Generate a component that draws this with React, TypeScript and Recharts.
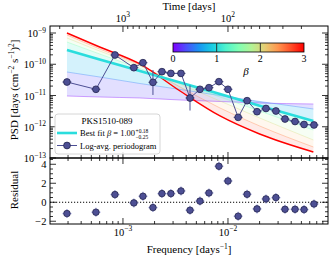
import React from 'react';
import {
  ComposedChart,
  Line,
  Area,
  Scatter,
  XAxis,
  YAxis,
  ErrorBar,
  ReferenceLine,
} from 'recharts';

const FONT = "'Liberation Serif', 'DejaVu Serif', serif";

// log-averaged periodogram of PKS1510-089
const freq = [
  2.93e-4, 5.53e-4, 8.39e-4, 1.27e-3, 1.55e-3, 1.93e-3, 2.35e-3, 2.86e-3, 3.57e-3, 4.35e-3, 5.41e-3, 6.59e-3,
  8.2e-3, 1.0e-2, 1.25e-2, 1.52e-2, 1.89e-2, 2.3e-2, 2.86e-2, 3.49e-2, 4.35e-2, 5.3e-2, 6.59e-2,
];
const psd = [
  2.7e-11, 1.58e-11, 1.98e-10, 7.76e-11, 1.12e-10, 2.64e-11, 5.78e-11, 5.1e-11, 5.1e-11, 8.32e-12, 1.58e-11,
  1.78e-11, 2.77e-11, 1.58e-11, 2.0e-12, 6.82e-12, 3.03e-12, 3.84e-12, 3.19e-12, 1.77e-12, 1.47e-12, 1.18e-12,
  1.14e-12,
];
const psdLow = [
  2.7e-11, 1.58e-11, 1.98e-10, 7.76e-11, 1.12e-10, 1.04e-11, 5.78e-11, 5.1e-11, 5.1e-11, 3.3e-12, 1.58e-11,
  1.78e-11, 2.77e-11, 1.58e-11, 2.0e-12, 6.82e-12, 3.03e-12, 3.84e-12, 3.19e-12, 1.77e-12, 1.47e-12, 1.18e-12,
  1.14e-12,
];
const psdHigh = [
  2.7e-11, 1.58e-11, 1.98e-10, 7.76e-11, 1.12e-10, 6.55e-11, 5.78e-11, 5.1e-11, 5.1e-11, 2.1e-11, 1.58e-11,
  1.78e-11, 2.77e-11, 1.58e-11, 2.0e-12, 6.82e-12, 3.03e-12, 3.84e-12, 3.19e-12, 1.77e-12, 1.47e-12, 1.18e-12,
  1.14e-12,
];
const residual = [
  -1.19, -1.05, 0.81, -0.07, 0.63, -0.56, 0.91, 0.91, 1.19, -0.84, 0.12, 0.98, 3.79, 2.24, -1.47, 0.84, -0.7,
  0.35, 0.49, -0.74, -0.74, -0.77, -0.18,
];

// simulated model PSDs, one curve per beta
const modelFreq = [2.93e-4, 6.0e-4, 1.45e-3, 3.5e-3, 8.4e-3, 2.0e-2, 6.5e-2];
const modelBeta = [0, 0.5, 1, 1.5, 2, 2.5, 3];
const modelB00 = [9.64e-12, 8.95e-12, 8.32e-12, 7.18e-12, 6.43e-12, 5.75e-12, 5.35e-12];
const modelB05 = [5.65e-11, 3.91e-11, 2.42e-11, 1.56e-11, 1.0e-11, 6.43e-12, 3.7e-12];
const modelB10 = [2.86e-10, 1.42e-10, 6.08e-11, 2.59e-11, 1.11e-11, 4.72e-12, 1.53e-12];
const modelB15 = [5.15e-10, 2.13e-10, 7.31e-11, 2.51e-11, 8.95e-12, 3.19e-12, 7.87e-13];
const modelB20 = [6.92e-10, 2.65e-10, 8.79e-11, 2.33e-11, 6.67e-12, 1.91e-12, 3.77e-13];
const modelB25 = [8.63e-10, 3.08e-10, 9.46e-11, 1.87e-11, 3.98e-12, 1.06e-12, 2.25e-13];
const modelB30 = [1.0e-9, 3.56e-10, 1.02e-10, 1.39e-11, 2.21e-12, 5.86e-13, 1.56e-13];
const modelCurves = [modelB00, modelB05, modelB10, modelB15, modelB20, modelB25, modelB30];
const BEST = 2; // beta = 1.00

// axis ticks
const freqMajor = [1e-3, 1e-2];
const freqMinor = [
  3e-4, 4e-4, 5e-4, 6e-4, 7e-4, 8e-4, 9e-4, 2e-3, 3e-3, 4e-3, 5e-3, 6e-3, 7e-3, 8e-3, 9e-3, 2e-2, 3e-2, 4e-2,
  5e-2, 6e-2, 7e-2, 8e-2,
];
const timeMajor = [1000, 100];
const timeMinor = [4000, 3000, 2000, 900, 800, 700, 600, 500, 400, 300, 200, 90, 80, 70, 60, 50, 40, 30, 20];
const psdMajor = [1e-13, 1e-12, 1e-11, 1e-10, 1e-9];
const resMajor = [-2, 0, 2, 4];
const resMinor = [-1.5, -1, -0.5, 0.5, 1, 1.5, 2.5, 3, 3.5, 4.5];

const X_DOMAIN = [2.02e-4, 0.0896];
const Y_DOMAIN = [1e-13, 1.675e-9];
const R_DOMAIN = [-2.29, 4.66];

// plot frame
const W = 332;
const PL = 50;
const PR = 328;
const PT = 26;
const PM = 158;
const PB = 224;

const PG = '#4d4f94';
const PG_EDGE = '#24264f';
const ERR_LIGHT = '#a3a7e0';

function rainbow(t: number) {
  const c = (v: number) => Math.round(Math.max(0, Math.min(1, v)) * 255);
  const r = Math.abs(2 * t - 0.5);
  const g = Math.sin(Math.PI * t);
  const b = Math.cos((Math.PI * t) / 2);
  return `rgb(${c(r)},${c(g)},${c(b)})`;
}

const psdMinor: number[] = [];
psdMajor.slice(0, -1).forEach((d) => {
  for (let m = 2; m <= 9; m++) psdMinor.push(m * d);
});

const freqTicks = [...freqMinor, ...freqMajor].sort((a, b) => a - b);
const timeTicks = [...timeMinor, ...timeMajor].map((t) => 1 / t).sort((a, b) => a - b);
const psdTicks = [...psdMinor, ...psdMajor].sort((a, b) => a - b);
const resTicks = [...resMinor, ...resMajor].sort((a, b) => a - b);

const near = (list: number[], v: number) => list.some((m) => Math.abs(v / m - 1) < 1e-6);

const modelRows = modelFreq.map((f, i) => {
  const row: Record<string, any> = { f };
  modelCurves.forEach((c, k) => {
    row[`m${k}`] = c[i];
    if (k < modelCurves.length - 1) row[`band${k}`] = [c[i], modelCurves[k + 1][i]];
  });
  return row;
});

const pgRows = freq.map((f, i) => ({
  f,
  psd: psd[i],
  err: [psd[i] - psdLow[i], psdHigh[i] - psd[i]],
  res: residual[i],
}));

function Pow10({ x, y, exp, anchor }: { x: number; y: number; exp: string; anchor: 'start' | 'middle' | 'end' }) {
  return (
    <text x={x} y={y} textAnchor={anchor} fontFamily={FONT} fontSize={10.5} fill="#000">
      10
      <tspan dy={-4.5} fontSize={7.5}>
        {exp}
      </tspan>
    </text>
  );
}

const tickLine = (x1: number, y1: number, x2: number, y2: number) => (
  <line x1={x1} y1={y1} x2={x2} y2={y2} stroke="#000" strokeWidth={0.8} />
);

const PsdTick = (props: any) => {
  const { y, payload } = props;
  const v = payload.value;
  const major = near(psdMajor, v);
  const len = major ? 6 : 3;
  return (
    <g>
      {tickLine(PL, y, PL + len, y)}
      {tickLine(PR - len, y, PR, y)}
      {major && <Pow10 x={46} y={y + 4} exp={`−${-Math.round(Math.log10(v))}`} anchor="end" />}
    </g>
  );
};

const MainFreqTick = (props: any) => {
  const { x, payload } = props;
  const len = near(freqMajor, payload.value) ? 6 : 3;
  return <g>{tickLine(x, PM, x, PM - len)}</g>;
};

const TimeTick = (props: any) => {
  const { x, payload } = props;
  const t = 1 / payload.value;
  const major = near(timeMajor, t);
  const len = major ? 6 : 3;
  return (
    <g>
      {tickLine(x, PT, x, PT + len)}
      {major && <Pow10 x={x} y={21.5} exp={`${Math.round(Math.log10(t))}`} anchor="middle" />}
    </g>
  );
};

const ResFreqTick = (props: any) => {
  const { x, payload } = props;
  const major = near(freqMajor, payload.value);
  const len = major ? 6 : 3;
  return (
    <g>
      {tickLine(x, PM, x, PM + len)}
      {tickLine(x, PB, x, PB - len)}
      {major && <Pow10 x={x} y={235.5} exp={`−${-Math.round(Math.log10(payload.value))}`} anchor="middle" />}
    </g>
  );
};

const ResTick = (props: any) => {
  const { y, payload } = props;
  const v = payload.value;
  const major = resMajor.includes(v);
  const len = major ? 6 : 3;
  return (
    <g>
      {tickLine(PL, y, PL + len, y)}
      {tickLine(PR - len, y, PR, y)}
      {major && (
        <text x={46.5} y={y + 3.7} textAnchor="end" fontFamily={FONT} fontSize={10.5} fill="#000">
          {v < 0 ? `−${-v}` : `${v}`}
        </text>
      )}
    </g>
  );
};

const PgDot = (p: any) => {
  const { cx, cy } = p;
  if (cx == null || cy == null) return <g />;
  return (
    <g>
      <line x1={cx - 4.5} x2={cx + 4.5} y1={cy} y2={cy} stroke={PG} strokeWidth={1} />
      <circle cx={cx} cy={cy} r={3.4} fill={PG} stroke={PG_EDGE} strokeWidth={0.8} />
    </g>
  );
};

const ResDot = (p: any) => {
  const { cx, cy } = p;
  if (cx == null || cy == null) return <g />;
  return (
    <g>
      <line x1={cx - 4.5} x2={cx + 4.5} y1={cy} y2={cy} stroke={ERR_LIGHT} strokeWidth={1.3} />
      <line x1={cx} x2={cx} y1={cy - 4.5} y2={cy + 4.5} stroke={ERR_LIGHT} strokeWidth={1.3} />
      <circle cx={cx} cy={cy} r={3.3} fill={PG} stroke={PG_EDGE} strokeWidth={0.8} />
    </g>
  );
};

const cbX0 = 173;
const cbX1 = 304;
const cbStops = [0, 0.1, 0.2, 0.3, 0.4, 0.5, 0.6, 0.7, 0.8, 0.9, 1];
const cbTicks = [0, 1, 2, 3];

export default function App() {
  return (
    <div
      style={{
        position: 'fixed',
        left: 0,
        top: 0,
        width: W,
        height: 257,
        background: '#fff',
        overflow: 'hidden',
      }}
    >
      <div style={{ position: 'absolute', left: 0, top: 0 }}>
        <ComposedChart width={W} height={170} data={modelRows} margin={{ top: 0, right: W - PR, bottom: 0, left: 0 }}>
          <XAxis
            xAxisId="f"
            dataKey="f"
            type="number"
            scale="log"
            domain={X_DOMAIN}
            allowDataOverflow
            ticks={freqTicks}
            interval={0}
            orientation="bottom"
            height={170 - PM}
            axisLine={false}
            tickLine={false}
            tick={(p: any) => <MainFreqTick {...p} />}
          />
          <XAxis
            xAxisId="t"
            dataKey="f"
            type="number"
            scale="log"
            domain={X_DOMAIN}
            allowDataOverflow
            ticks={timeTicks}
            interval={0}
            orientation="top"
            height={PT}
            axisLine={false}
            tickLine={false}
            tick={(p: any) => <TimeTick {...p} />}
          />
          <YAxis
            type="number"
            scale="log"
            domain={Y_DOMAIN}
            allowDataOverflow
            ticks={psdTicks}
            interval={0}
            width={PL}
            axisLine={false}
            tickLine={false}
            tick={(p: any) => <PsdTick {...p} />}
          />
          {modelCurves.slice(0, -1).map((_, k) => (
            <Area
              key={`band${k}`}
              xAxisId="f"
              dataKey={`band${k}`}
              type="monotone"
              stroke="none"
              fill={rainbow((modelBeta[k] + modelBeta[k + 1]) / 6)}
              fillOpacity={k < 3 ? 0.17 : 0.11}
              dot={false}
              activeDot={false}
              isAnimationActive={false}
            />
          ))}
          {modelCurves.map((_, k) =>
            k === BEST || k === modelCurves.length - 1 ? null : (
              <Line
                key={`m${k}`}
                xAxisId="f"
                dataKey={`m${k}`}
                type="monotone"
                stroke={rainbow(modelBeta[k] / 3)}
                strokeWidth={0.7}
                strokeOpacity={0.5}
                dot={false}
                activeDot={false}
                isAnimationActive={false}
              />
            ),
          )}
          <Line
            xAxisId="f"
            dataKey={`m${modelCurves.length - 1}`}
            type="monotone"
            stroke={rainbow(1)}
            strokeWidth={1.4}
            dot={false}
            activeDot={false}
            isAnimationActive={false}
          />
          <Line
            xAxisId="f"
            dataKey={`m${BEST}`}
            type="monotone"
            stroke={rainbow(modelBeta[BEST] / 3)}
            strokeWidth={2.6}
            dot={false}
            activeDot={false}
            isAnimationActive={false}
          />
          <Line
            xAxisId="f"
            data={pgRows}
            dataKey="psd"
            stroke={PG}
            strokeWidth={1}
            dot={false}
            activeDot={false}
            isAnimationActive={false}
          />
          <Scatter xAxisId="f" data={pgRows} dataKey="psd" shape={PgDot} isAnimationActive={false}>
            <ErrorBar dataKey="err" direction="y" width={0} stroke={PG} strokeWidth={1} />
          </Scatter>
        </ComposedChart>
      </div>

      <div style={{ position: 'absolute', left: 0, top: 0 }}>
        <ComposedChart width={W} height={257} data={pgRows} margin={{ top: PM, right: W - PR, bottom: 0, left: 0 }}>
          <XAxis
            dataKey="f"
            type="number"
            scale="log"
            domain={X_DOMAIN}
            allowDataOverflow
            ticks={freqTicks}
            interval={0}
            height={257 - PB}
            axisLine={false}
            tickLine={false}
            tick={(p: any) => <ResFreqTick {...p} />}
          />
          <YAxis
            type="number"
            domain={R_DOMAIN}
            allowDataOverflow
            ticks={resTicks}
            interval={0}
            width={PL}
            axisLine={false}
            tickLine={false}
            tick={(p: any) => <ResTick {...p} />}
          />
          <ReferenceLine y={0} stroke="#000" strokeWidth={1} strokeDasharray="1.2 1.8" />
          <Scatter dataKey="res" shape={ResDot} isAnimationActive={false} />
        </ComposedChart>
      </div>

      <svg
        width={W}
        height={257}
        style={{ position: 'absolute', left: 0, top: 0, pointerEvents: 'none' }}
        fontFamily={FONT}
      >
        <defs>
          <linearGradient id="cb" x1="0" x2="1" y1="0" y2="0">
            {cbStops.map((s) => (
              <stop key={s} offset={s} stopColor={rainbow(s)} />
            ))}
          </linearGradient>
        </defs>
        <rect x={PL} y={PT} width={PR - PL} height={PM - PT} fill="none" stroke="#000" strokeWidth={1} />
        <rect x={PL} y={PM} width={PR - PL} height={PB - PM} fill="none" stroke="#000" strokeWidth={1} />

        <text x={(PL + PR) / 2} y={10} textAnchor="middle" fontSize={11}>
          Time [days]
        </text>
        <text x={(PL + PR) / 2} y={253} textAnchor="middle" fontSize={11}>
          Frequency [days
          <tspan dy={-4} fontSize={7.5}>
            −1
          </tspan>
          <tspan dy={4}>]</tspan>
        </text>
        <text x={17.5} y={90} textAnchor="middle" fontSize={11} transform="rotate(-90 17.5 90)">
          PSD [days (cm
          <tspan dy={-4} fontSize={7.5}>
            −2
          </tspan>
          <tspan dy={4}> s</tspan>
          <tspan dy={-4} fontSize={7.5}>
            −1
          </tspan>
          <tspan dy={4}>)</tspan>
          <tspan dy={-4} fontSize={7.5}>
            2
          </tspan>
          <tspan dy={4}>]</tspan>
        </text>
        <text x={17.5} y={190} textAnchor="middle" fontSize={11} transform="rotate(-90 17.5 190)">
          Residual
        </text>

        {/* colour bar */}
        <rect x={cbX0} y={43} width={cbX1 - cbX0} height={9} fill="url(#cb)" stroke="#000" strokeWidth={0.8} />
        {cbTicks.map((b) => {
          const x = cbX0 + ((cbX1 - cbX0) * b) / 3;
          return (
            <g key={b}>
              {b > 0 && b < 3 && <line x1={x} x2={x} y1={43} y2={52} stroke="#222" strokeWidth={0.9} />}
              <text x={x} y={61.5} textAnchor="middle" fontSize={10}>
                {b}
              </text>
            </g>
          );
        })}
        <text x={246} y={75} textAnchor="middle" fontSize={11} fontStyle="italic">
          β
        </text>

        {/* legend */}
        <rect x={55} y={114} width={105} height={40} rx={3} fill="#fff" fillOpacity={0.85} stroke="#ccc" strokeWidth={0.8} />
        <text x={107} y={123.5} textAnchor="middle" fontSize={9}>
          PKS1510-089
        </text>
        <line x1={57} x2={77} y1={133} y2={133} stroke={rainbow(1 / 3)} strokeWidth={2.6} />
        <text x={80} y={136} fontSize={8.5}>
          Best fit <tspan fontStyle="italic">β</tspan> = 1.00
          <tspan dx={0.5} dy={-3.5} fontSize={5.5}>
            +0.18
          </tspan>
          <tspan dx={-12.9} dy={6.5} fontSize={5.5}>
            −0.25
          </tspan>
        </text>
        <line x1={57} x2={77} y1={145.5} y2={145.5} stroke={PG} strokeWidth={1} />
        <line x1={62.5} x2={71.5} y1={145.5} y2={145.5} stroke={PG} strokeWidth={1} />
        <circle cx={67} cy={145.5} r={3.4} fill={PG} stroke={PG_EDGE} strokeWidth={0.8} />
        <text x={80} y={148.5} fontSize={8.5}>
          Log-avg. periodogram
        </text>
      </svg>
    </div>
  );
}
